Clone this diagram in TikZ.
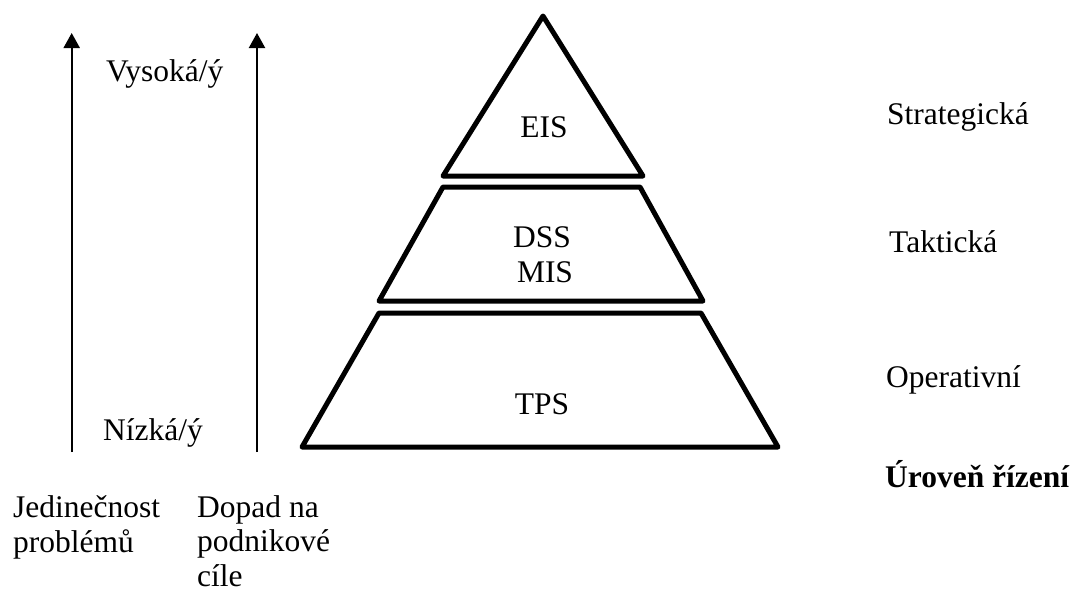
\documentclass[tikz,border=0pt]{standalone}
\usepackage{fontspec}
\setmainfont{Liberation Serif}
\usetikzlibrary{arrows.meta}
\begin{document}
\begin{tikzpicture}[x=1pt,y=-1pt,
  lbl/.style={inner sep=0pt,font=\fontsize{31.5}{34.5}\selectfont},
  lblw/.style={lbl,anchor=base west,align=left},
  lblc/.style={lbl,anchor=base},
  tier/.style={line width=5pt,line join=round},
  axis/.style={line width=2.2pt,-{Triangle[width=16pt,length=15pt]}}]
\useasboundingbox (0,0) rectangle (1075,592);

% vertical axes
\coordinate (a1s) at (71.7,452);
\coordinate (a1e) at (71.7,33);
\coordinate (a2s) at (257,452);
\coordinate (a2e) at (257,33);
\draw[axis] (a1s) -- (a1e);
\draw[axis] (a2s) -- (a2e);

\node[lblw] (high) at (106,81) {Vysoká/ý};
\node[lblw] (low) at (103,440) {Nízká/ý};
% base anchor of a multi-line node sits on its last line
\node[lblw] (uniq) at (13,552) {Jedinečnost\\problémů};
\node[lblw] (impact) at (197,586) {Dopad na\\podnikové\\cíle};

% pyramid tiers
\draw[tier] (543,16) -- (643,176) -- (443,176) -- cycle;
\draw[tier] (443,187) -- (640,187) -- (703,301) -- (379,301) -- cycle;
\draw[tier] (379,313) -- (701,313) -- (778,447) -- (302,447) -- cycle;

\node[lblc] (eis) at (544,137) {EIS};
\node[lblc] (dss) at (542,247) {DSS};
\node[lblc] (mis) at (545,282) {MIS};
\node[lblc] (tps) at (542,414) {TPS};

% management levels
\node[lblw] (strat) at (887,124) {Strategická};
\node[lblw] (takt) at (889,252) {Taktická};
\node[lblw] (oper) at (886,387) {Operativní};
\node[lblw,font=\fontsize{31.5}{34.5}\selectfont\bfseries] (level) at (885,487) {Úroveň řízení};
\end{tikzpicture}
\end{document}
